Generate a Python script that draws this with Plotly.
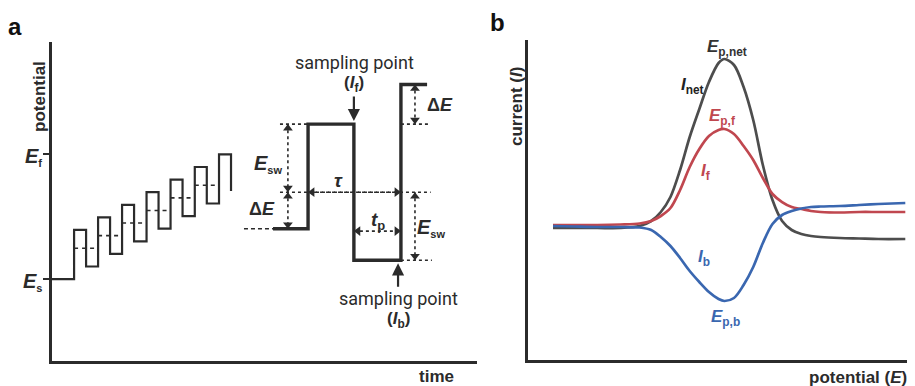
import plotly.graph_objects as go

# the page adds an 8px body margin, so the figure is 8px smaller and every
# reference pixel position is shifted by that margin
REF_W, REF_H = 915, 386
OFF = 8
W, H = REF_W - OFF, REF_H - OFF

# ---------------- panel a : square-wave potential programme ----------------
# time in units of one cycle (tau), potential in units of the staircase step
stair_rise_t = [0.92, 1.92, 2.92, 3.94, 4.94, 5.95, 6.96]
stair_mid_E = [2.45, 3.45, 4.45, 5.45, 6.45, 7.45, 8.45]
stair_E_sw = 1.45
stair_half = 0.5
E_s = 0.0
E_f = 9.9

# enlarged single cycle
big_t = [9.21, 10.67, 12.58, 14.54, 15.63]   # start, rise, fall, rise, end
big_E_base = 4.0
big_E_mid = 6.9
big_E_top = 12.3
big_E_bot = 1.5
big_E_top2 = 15.45
guide_left_t = 9.5
guide_right_t = 15.78
base_dash_t = 8.0
arrow_left_t = 9.83
arrow_right_t = 15.125
tp_E = 3.81

# ---------------- panel b : square-wave voltammogram ----------------
pot = [6.5, 12, 18, 24, 29, 32, 34.5, 37, 39.5, 42, 44.5, 47, 49.5, 51,
       53.5, 56, 58.5, 61, 63.5, 66, 68.5, 71, 73.5, 76, 81, 86, 91, 98]
I_net = [-0.2, -0.2, -0.2, -0.2, 0.0, 0.5, 1.4, 2.9, 5.6, 8.9, 11.7, 14.4,
         16.3, 16.7, 16.1, 13.9, 10.6, 6.1, 2.6, 0.5, -0.4, -0.8, -1.0, -1.1,
         -1.2, -1.25, -1.3, -1.3]
I_f = [0.1, 0.1, 0.1, 0.15, 0.25, 0.5, 1.0, 1.8, 3.6, 5.9, 7.7, 9.0, 9.6,
       9.7, 9.2, 8.0, 6.6, 4.8, 3.2, 2.4, 1.9, 1.7, 1.5, 1.4, 1.35, 1.4, 1.4,
       1.4]
I_b = [0.0, -0.05, -0.1, -0.1, -0.15, -0.4, -1.1, -2.0, -3.2, -4.5, -5.6,
       -6.6, -7.3, -7.5, -7.2, -5.9, -4.1, -1.7, 0.2, 1.1, 1.5, 1.75, 1.9,
       1.95, 2.0, 2.1, 2.2, 2.3]

C_NET, C_F, C_B = "#4d4d4d", "#c0474f", "#3a67b0"
INK = "#2b2b2b"
SANS = "Liberation Sans, Arial, sans-serif"
ROB = "Roboto, sans-serif"

fig = go.Figure()

# staircase path
xs, ys = [0.0], [E_s]
level = E_s
for r, m in zip(stair_rise_t, stair_mid_E):
    top, bot = m + stair_E_sw, m - stair_E_sw
    xs += [r, r, r + stair_half, r + stair_half]
    ys += [level, top, top, bot]
    level = bot
fig.add_trace(go.Scatter(x=xs, y=ys, mode="lines",
                         line=dict(color=INK, width=2.2, shape="linear")))

# dashed mid levels
dx, dy = [], []
for k in range(len(stair_rise_t) - 1):
    dx += [stair_rise_t[k], stair_rise_t[k + 1], None]
    dy += [stair_mid_E[k], stair_mid_E[k], None]
fig.add_trace(go.Scatter(x=dx, y=dy, mode="lines",
                         line=dict(color=INK, width=1.6, dash="4px,4px")))

# enlarged cycle
bx = [big_t[0], big_t[1], big_t[1], big_t[2], big_t[2], big_t[3], big_t[3], big_t[4]]
by = [big_E_base, big_E_base, big_E_top, big_E_top, big_E_bot, big_E_bot,
      big_E_top2, big_E_top2]
fig.add_trace(go.Scatter(x=bx, y=by, mode="lines",
                         line=dict(color=INK, width=3.4)))

# dashed base guide
fig.add_trace(go.Scatter(x=[base_dash_t, big_t[0]], y=[big_E_base, big_E_base],
                         mode="lines", line=dict(color=INK, width=1.6, dash="4px,3px")))
# dotted guides
gx = [guide_left_t, big_t[1], None,
      guide_left_t, guide_right_t, None,
      big_t[3], guide_right_t, None,
      big_t[3], guide_right_t + 0.05]
gy = [big_E_top, big_E_top, None,
      big_E_mid, big_E_mid, None,
      big_E_top, big_E_top, None,
      big_E_bot, big_E_bot]
fig.add_trace(go.Scatter(x=gx, y=gy, mode="lines",
                         line=dict(color=INK, width=1.6, dash="dot")))

# dotted double arrows (shafts)
ax_, ay_ = [], []
v_arrows = [(arrow_left_t, big_E_top, big_E_mid),
            (arrow_left_t, big_E_mid, big_E_base),
            (arrow_right_t, big_E_mid, big_E_bot),
            (arrow_right_t, big_E_top2, big_E_top)]
h_arrows = [(big_E_mid, big_t[1], big_t[3]),
            (tp_E, big_t[2], big_t[3])]
for t, e1, e2 in v_arrows:
    ax_ += [t, t, None]
    ay_ += [e1, e2, None]
for e, t1, t2 in h_arrows:
    ax_ += [t1, t2, None]
    ay_ += [e, e, None]
fig.add_trace(go.Scatter(x=ax_, y=ay_, mode="lines",
                         line=dict(color=INK, width=1.6, dash="dot")))

# arrow heads (triangle markers, tip on the guide line)
PX_T = 425 / 17.71   # pixels per time unit (for head offsets)
PX_E = 319 / 25.32   # pixels per potential unit
off_e = 4.2 / PX_E
off_t = 4.2 / PX_T
hx, hy, hs = [], [], []
for t, e1, e2 in v_arrows:
    hx += [t, t]
    hy += [e1 - off_e, e2 + off_e]
    hs += ["triangle-up", "triangle-down"]
for e, t1, t2 in h_arrows:
    hx += [t1 + off_t, t2 - off_t]
    hy += [e, e]
    hs += ["triangle-left", "triangle-right"]
fig.add_trace(go.Scatter(x=hx, y=hy, mode="markers",
                         marker=dict(symbol=hs, size=8.5, color=INK,
                                     line=dict(width=0))))

for tr in fig.data:
    tr.update(xaxis="x", yaxis="y", showlegend=False, hoverinfo="skip")

# panel b curves
for yv, col in [(I_net, C_NET), (I_f, C_F), (I_b, C_B)]:
    fig.add_trace(go.Scatter(x=pot, y=yv, mode="lines", xaxis="x2", yaxis="y2",
                             line=dict(color=col, width=2.7, shape="spline",
                                       smoothing=0.9),
                             showlegend=False, hoverinfo="skip"))

# ---------------- annotations ----------------
ann = []


def sym(base, sub, subsize=11):
    """bold italic symbol with a small bold subscript"""
    return ("<b><i>%s</i><sub><span style='font-size:%dpx'>%s</span></sub></b>"
            % (base, subsize, sub))


def txt(text, x, y, ref="", size=17, color=INK, family=SANS, **kw):
    d = dict(text=text, x=x, y=y, xref="x" + ref, yref="y" + ref,
             showarrow=False, xanchor="center", yanchor="middle",
             font=dict(family=family, size=size, color=color))
    d.update(kw)
    ann.append(d)


def ptxt(text, px, py, size=17, color=INK, family=SANS, **kw):
    """text placed in page pixels of the reference (outside the plot areas)"""
    d = dict(text=text, x=(px - OFF) / W, y=(REF_H - py) / H, xref="paper",
             yref="paper", showarrow=False, xanchor="center", yanchor="middle",
             font=dict(family=family, size=size, color=color))
    d.update(kw)
    ann.append(d)


# panel a
ptxt("<b>a</b>", 15, 26, size=24, color="#111")
ptxt("<b>potential</b>", 39, 97, textangle=-90)
ptxt("<b>time</b>", 436, 376)
ptxt(sym("E", "f"), 44, 157, size=20, xanchor="right")
ptxt(sym("E", "s"), 44, 282, size=20, xanchor="right")
txt("sampling point", 12.6, 17.2, size=18, family=ROB)
txt("<b>(<i>I</i><sub>f</sub>)</b>", 12.6, 15.5, size=17)
txt("sampling point", 14.42, -1.5, size=18, family=ROB)
txt("<b>(<i>I</i><sub>b</sub>)</b>", 14.42, -3.25, size=17)
txt(sym("E", "sw"), 9.0, 9.1, size=20)
txt("<b>Δ<i>E</i></b>", 8.75, 5.6, size=18)
txt("<b><i>τ</i></b>", 11.92, 7.8, size=19)
txt(sym("t", "p", 13), 13.58, 4.6, size=19)
txt(sym("E", "sw"), 15.78, 4.05, size=20)
txt("<b>Δ<i>E</i></b>", 16.15, 13.8, size=18)

# solid sampling arrows
ann.append(dict(x=big_t[2], y=big_E_top + 0.25, xref="x", yref="y", ax=0, ay=-26,
                text="", showarrow=True, arrowhead=2, arrowsize=1.1,
                arrowwidth=2.2, arrowcolor=INK))
ann.append(dict(x=big_t[3] - 0.12, y=big_E_bot - 0.25, xref="x", yref="y", ax=0,
                ay=25, text="", showarrow=True, arrowhead=2, arrowsize=1.1,
                arrowwidth=2.2, arrowcolor=INK))

# panel b
ptxt("<b>b</b>", 497, 22, size=24, color="#111")
ptxt("<b>current (<i>I</i>)</b>", 516, 106, textangle=-90)
ptxt("<b>potential (<i>E</i>)</b>", 858, 377)
txt("<b><i>E</i><sub>p,net</sub></b>", 51.7, 17.8, ref="2", color="#333")
txt("<b><i>I</i><sub>net</sub></b>", 42.6, 14.0, ref="2", color="#222")
txt("<b><i>E</i><sub>p,f</sub></b>", 50.4, 10.9, ref="2", color=C_F)
txt("<b><i>I</i><sub>f</sub></b>", 46.2, 5.4, ref="2", color=C_F)
txt("<b><i>I</i><sub>b</sub></b>", 45.7, -3.2, ref="2", color=C_B)
txt("<b><i>E</i><sub>p,b</sub></b>", 51.2, -9.2, ref="2", color=C_B)


def dom_x(a, b):
    return [(a - OFF) / W, (b - OFF) / W]


def dom_y(top, bot):
    return [(REF_H - bot) / H, (REF_H - top) / H]


axis_common = dict(showgrid=False, zeroline=False, showline=True,
                   linecolor=INK, linewidth=2.6, fixedrange=True)

fig.update_layout(
    width=W, height=H, margin=dict(l=0, r=0, t=0, b=0),
    paper_bgcolor="white", plot_bgcolor="white", showlegend=False,
    xaxis=dict(domain=dom_x(52, 477), range=[0, 17.71], anchor="y",
               showticklabels=False, ticks="", **axis_common),
    yaxis=dict(domain=dom_y(42, 361), range=[-6.5, 18.82], anchor="x",
               showticklabels=False, ticks="outside", tickvals=[E_s, E_f],
               ticklen=6, tickwidth=2, tickcolor=INK, **axis_common),
    xaxis2=dict(domain=dom_x(528, 913), range=[0, 100], anchor="y2",
                showticklabels=False, ticks="", **axis_common),
    yaxis2=dict(domain=dom_y(40, 360), range=[-13.4, 18.6], anchor="x2",
                showticklabels=False, ticks="", **axis_common),
    annotations=ann,
)

fig.write_html("out.html")
